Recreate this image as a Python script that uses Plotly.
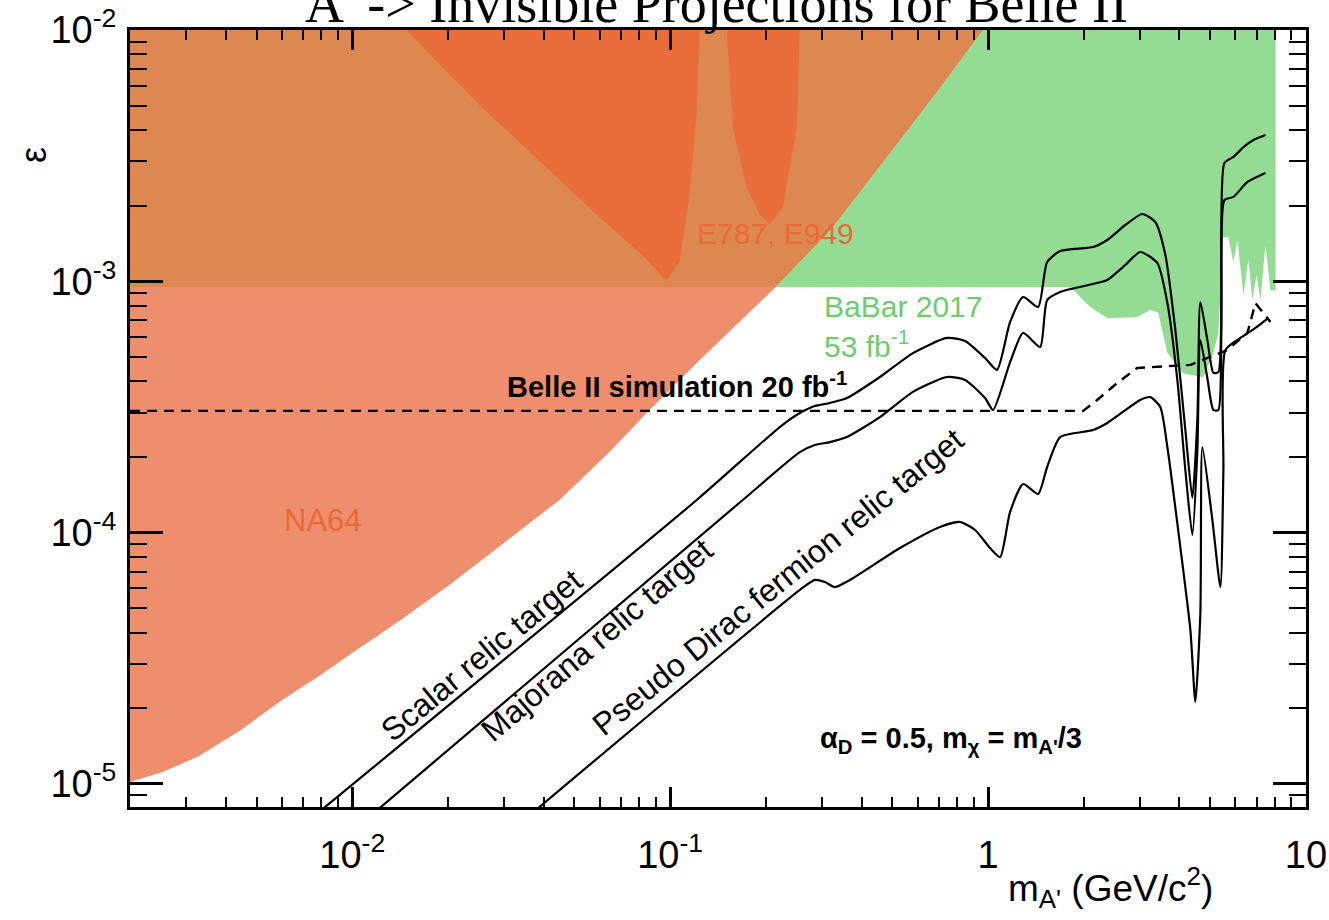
import numpy as np
import plotly.graph_objects as go

# ---------------- axis limits ----------------
M_MIN, M_MAX = 0.002, 10.0          # m_A' in GeV/c^2
EPS_MIN, EPS_MAX = 8.09e-6, 1.0e-2  # kinetic mixing epsilon

# ---------------- NA64 exclusion boundary ----------------
na64_mass = [0.002, 0.002558, 0.003297, 0.004405, 0.006018, 0.007871, 0.009786, 0.01406,
             0.0202, 0.02904, 0.04487, 0.06447, 0.08616, 0.1239, 0.1655, 0.2134, 0.2558,
             0.3179, 0.4099, 0.5283, 0.7062, 0.9644]
na64_eps = [1.018e-5, 1.12e-5, 1.29e-5, 1.62e-5, 2.157e-5, 2.69e-5, 3.26e-5, 4.45e-5,
            6.19e-5, 8.84e-5, 1.348e-4, 2.093e-4, 3.075e-4, 4.861e-4, 6.887e-4, 9.404e-4,
            1.193e-3, 1.585e-3, 2.394e-3, 3.65e-3, 5.877e-3, 1.0e-2]

# lower edge of the upper excluded band
band_floor = 9.5e-4

# ---------------- E787 / E949 regions ----------------
e787_a_mass = [0.01479, 0.02512, 0.0411, 0.0587, 0.0819, 0.0975, 0.1072, 0.1152, 0.1212, 0.1239]
e787_a_eps = [1e-2, 5.03e-3, 2.82e-3, 1.84e-3, 1.27e-3, 1.003e-3, 1.205e-3, 2.205e-3, 4.76e-3, 1e-2]
e787_b_mass = [0.1507, 0.1574, 0.1742, 0.1913, 0.2058, 0.2261, 0.2502, 0.2559]
e787_b_eps = [1e-2, 4.07e-3, 2.35e-3, 1.84e-3, 1.675e-3, 1.96e-3, 4.07e-3, 1e-2]

# ---------------- BaBar 2017 (53 fb^-1) lower edge ----------------
babar_mass = [1.813, 2.096, 2.371, 2.946, 3.237, 3.43, 3.664, 4.114, 4.755, 5.113, 5.30,
              5.498, 5.70, 5.91, 6.085, 6.356, 6.59, 6.785, 6.985, 7.19, 7.455, 7.73, 8.02]
babar_eps = [9.5e-4, 7.9e-4, 7.15e-4, 7.2e-4, 7.7e-4, 7.5e-4, 5.2e-4, 4.3e-4, 4.15e-4, 5.2e-4, 6.2e-4,
             1.5e-3, 1.5e-3, 1.19e-3, 1.46e-3, 8.8e-4, 1.22e-3, 8.4e-4, 1.06e-3, 8.4e-4, 1.39e-3,
             9.2e-4, 9.2e-4]

# ---------------- relic targets ----------------
scalar_mass = [0.008, 0.1212, 0.2213, 0.2558, 0.2851, 0.3179, 0.3597, 0.4569, 0.5804, 0.7428,
               0.8465, 0.9785, 1.067, 1.173, 1.289, 1.437, 1.534, 1.686, 2.141, 2.371, 2.701,
               3.055, 3.357, 3.611, 3.882, 4.174, 4.391, 4.553, 4.653, 4.895, 5.113, 5.302,
               5.419, 5.538, 5.911, 6.356, 6.832, 7.455]
scalar_eps = [7.87e-6, 1.348e-4, 2.63e-4, 2.99e-4, 3.19e-4, 3.28e-4, 3.43e-4, 4.16e-4, 5.18e-4,
              5.95e-4, 5.79e-4, 4.95e-4, 4.44e-4, 6.89e-4, 8.66e-4, 7.90e-4, 1.193e-3, 1.32e-3,
              1.369e-3, 1.46e-3, 1.675e-3, 1.853e-3, 1.722e-3, 1.273e-3, 6.40e-4, 2.56e-4,
              1.373e-4, 2.81e-4, 8.27e-4, 5.84e-4, 4.32e-4, 4.35e-4, 8.42e-4, 2.957e-3,
              3.125e-3, 3.42e-3, 3.65e-3, 3.82e-3]

majorana_mass = [0.0115, 0.1692, 0.2558, 0.2851, 0.3179, 0.3597, 0.4569, 0.5804, 0.7428, 0.8465,
                 0.9785, 1.037, 1.173, 1.289, 1.458, 1.534, 1.686, 2.204, 2.371, 2.701, 3.010,
                 3.406, 3.664, 3.938, 4.174, 4.391, 4.553, 4.653, 4.895, 5.113, 5.302, 5.419,
                 5.538, 5.911, 6.543, 7.455]
majorana_eps = [7.52e-6, 1.348e-4, 2.09e-4, 2.23e-4, 2.29e-4, 2.40e-4, 2.88e-4, 3.63e-4, 4.16e-4,
                4.05e-4, 3.43e-4, 3.075e-4, 4.77e-4, 6.23e-4, 5.48e-4, 8.42e-4, 9.07e-4, 9.84e-4,
                1.012e-3, 1.161e-3, 1.308e-3, 1.183e-3, 8.19e-4, 4.05e-4, 1.774e-4, 9.78e-5,
                2.13e-4, 5.84e-4, 4.12e-4, 3.075e-4, 3.075e-4, 6.40e-4, 2.106e-3, 2.166e-3,
                2.484e-3, 2.698e-3]

pdirac_mass = [0.037, 0.2558, 0.2851, 0.3066, 0.3297, 0.3676, 0.5283, 0.706, 0.816, 0.910,
               1.0146, 1.091, 1.173, 1.289, 1.437, 1.534, 1.686, 2.141, 2.371, 3.010, 3.237,
               3.481, 3.664, 4.024, 4.328, 4.487, 4.653, 4.721, 5.076, 5.38, 5.498, 5.578,
               6.219, 6.934, 7.62]
pdirac_eps = [7.69e-6, 5.91e-5, 6.48e-5, 6.36e-5, 6.07e-5, 6.48e-5, 8.68e-5, 1.053e-4, 1.102e-4,
              1.024e-4, 8.68e-5, 7.99e-5, 1.208e-4, 1.561e-4, 1.424e-4, 1.824e-4, 2.40e-4,
              2.56e-4, 2.73e-4, 3.37e-4, 3.46e-4, 3.16e-4, 2.19e-4, 8.76e-5, 4.10e-5, 2.12e-5,
              4.79e-5, 2.19e-4, 1.122e-4, 6.07e-5, 1.774e-4, 5.33e-4, 5.95e-4, 6.52e-4, 7.15e-4]

# ---------------- Belle II projection (20 fb^-1) ----------------
belle2_mass = [0.002, 1.991, 2.204, 2.549, 2.946, 3.406, 4.328, 5.658, 6.543, 6.934, 7.73]
belle2_eps = [3.05e-4, 3.05e-4, 3.37e-4, 3.94e-4, 4.52e-4, 4.56e-4, 4.65e-4, 5.33e-4, 6.23e-4,
              8.19e-4, 6.89e-4]

# ---------------- tick labels ----------------
x_tick_vals = [0.01, 0.1, 1, 10]
x_tick_text = ["10<sup>-2</sup>", "10<sup>-1</sup>", "1", "10"]
y_tick_vals = [1e-5, 1e-4, 1e-3, 1e-2]
y_tick_text = ["10<sup>-5</sup>", "10<sup>-4</sup>", "10<sup>-3</sup>", "10<sup>-2</sup>"]
x_minor = [k * 10.0 ** d for d in (-3, -2, -1, 0) for k in range(2, 10)]
y_minor = [k * 10.0 ** d for d in (-6, -5, -4, -3) for k in range(2, 10)]

# colours
C_NA64 = "#EF8E6C"
C_BAND = "#DD8851"
C_E787 = "#E96E3A"
C_BABAR = "#94DC94"
C_BABAR_TXT = "#6FCB6F"
C_RED_TXT = "#EA6A36"

# ---------------- build polygons ----------------
lx, ly = np.log10(na64_mass), np.log10(na64_eps)
m_cross = 10 ** np.interp(np.log10(band_floor), ly, lx)
upper = [(m, e) for m, e in zip(na64_mass, na64_eps) if e > band_floor]

na64_poly_x = na64_mass + [M_MIN]
na64_poly_y = na64_eps + [EPS_MAX]

band_x = [M_MIN, m_cross] + [m for m, _ in upper] + [M_MIN]
band_y = [band_floor, band_floor] + [e for _, e in upper] + [EPS_MAX]

green_x = [m_cross] + babar_mass + [babar_mass[-1]] + [m for m, _ in reversed(upper)]
green_y = [band_floor] + babar_eps + [EPS_MAX] + [e for _, e in reversed(upper)]

fig = go.Figure()


def area(x, y, color):
    fig.add_trace(go.Scatter(x=x, y=y, mode="lines", fill="toself", fillcolor=color,
                             line=dict(width=0, color=color), hoverinfo="skip"))


area(na64_poly_x, na64_poly_y, C_NA64)
area(band_x, band_y, C_BAND)
area(e787_a_mass, e787_a_eps, C_E787)
area(e787_b_mass, e787_b_eps, C_E787)
area(green_x, green_y, C_BABAR)

for mx, ey in ((scalar_mass, scalar_eps), (majorana_mass, majorana_eps), (pdirac_mass, pdirac_eps)):
    fig.add_trace(go.Scatter(x=mx, y=ey, mode="lines",
                             line=dict(color="black", width=2.2, shape="spline", smoothing=0.6),
                             hoverinfo="skip"))

fig.add_trace(go.Scatter(x=belle2_mass, y=belle2_eps, mode="lines",
                         line=dict(color="black", width=2.4, dash="10px,7px"), hoverinfo="skip"))

# ---------------- axes ----------------
SANS = "Liberation Sans, Arial, Helvetica, sans-serif"
common = dict(type="log", showline=True, linecolor="black", linewidth=3, mirror="allticks",
              ticks="inside", tickcolor="black", tickwidth=2.5, showgrid=False, zeroline=False,
              automargin=False, tickfont=dict(family=SANS, size=38, color="black"))

fig.update_xaxes(range=[np.log10(M_MIN), np.log10(M_MAX)], ticklen=20,
                 tickvals=x_tick_vals, ticktext=x_tick_text, ticklabelstandoff=12,
                 minor=dict(ticks="inside", ticklen=10, tickwidth=2, tickcolor="black",
                            tickvals=x_minor, showgrid=False),
                 **common)
fig.update_yaxes(range=[np.log10(EPS_MIN), np.log10(EPS_MAX)], ticklen=33,
                 tickvals=y_tick_vals, ticktext=y_tick_text, ticklabelstandoff=3,
                 minor=dict(ticks="inside", ticklen=17, tickwidth=2, tickcolor="black",
                            tickvals=y_minor, showgrid=False),
                 **common)


def label(text, x, y, size, color="black", angle=0, xanchor="center", yanchor="middle",
          family=SANS, yshift=0):
    fig.add_annotation(text=text, x=x, y=y, xref="paper", yref="paper", showarrow=False,
                       textangle=angle, xanchor=xanchor, yanchor=yanchor, yshift=yshift,
                       font=dict(family=family, size=size, color=color))


# title
label("A' -> Invisible Projections for Belle II", 0.499, 1.0, 54, yanchor="bottom",
      family="Liberation Serif, Times New Roman, serif", yshift=-6)

# region labels
label("E787, E949", 0.5493, 0.7387, 30, color=C_RED_TXT)
label("NA64", 0.1641, 0.3681, 31, color=C_RED_TXT)
label("BaBar 2017", 0.5884, 0.6445, 30, color=C_BABAR_TXT, xanchor="left")
label("53 fb<sup>-1</sup>", 0.5884, 0.5965, 30, color=C_BABAR_TXT, xanchor="left")
label("<b>Belle II simulation 20 fb<sup>-1</sup></b>", 0.3189, 0.5431, 29, xanchor="left")

# relic target labels, running along their curves
label("Scalar relic target", 0.2993, 0.1956, 32, angle=-39.5)
label("Majorana relic target", 0.3971, 0.2149, 32, angle=-40.5)
label("Pseudo Dirac fermion relic target", 0.551, 0.2896, 32, angle=-39)

label("<b>α<sub>D</sub> = 0.5, m<sub>χ</sub> = m<sub>A'</sub>/3</b>", 0.585, 0.0862, 29,
      xanchor="left")

# axis titles
label("ε", -0.0825, 0.8391, 36, angle=-90)
label("m<sub>A'</sub> (GeV/c<sup>2</sup>)", 0.9226, -0.1042, 37, xanchor="right")

fig.update_layout(
    width=1329, height=920,
    margin=dict(l=130, r=23, t=30, b=113),
    plot_bgcolor="white", paper_bgcolor="white",
    showlegend=False,
    font=dict(family=SANS, color="black"),
)

fig.write_html("out.html")
